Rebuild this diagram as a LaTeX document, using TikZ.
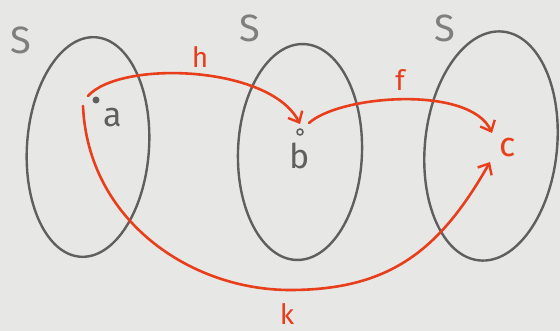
\documentclass[tikz,border=0pt]{standalone}
\usepackage{fontspec}
\setmainfont{Fira Sans}
\usetikzlibrary{arrows.meta}
\definecolor{paper}{RGB}{231,231,229}
\definecolor{pencil}{RGB}{95,95,95}
\definecolor{marker}{RGB}{232,62,28}
\tikzset{
  setline/.style={draw=pencil, line width=2.4pt},
  maparrow/.style={draw=marker, line width=2.6pt, line cap=round,
    -{Straight Barb[length=9pt,width=16pt,line width=2.4pt]}},
  setlabel/.style={text=pencil!80, font=\fontsize{38}{38}\selectfont, inner sep=0pt},
  ptlabel/.style={text=pencil, font=\fontsize{34}{34}\selectfont, inner sep=0pt},
  redlabel/.style={text=marker, font=\fontsize{28}{28}\selectfont, inner sep=0pt},
}
\begin{document}
\begin{tikzpicture}[x=1pt,y=-1pt]
\fill[paper] (0,0) rectangle (560,331);
\useasboundingbox (0,0) rectangle (560,331);
% sets
\draw[setline, rotate around={-4:(88,147)}] (88,147) ellipse [x radius=61, y radius=110];
\draw[setline, rotate around={-2:(300,152)}] (300,152) ellipse [x radius=62, y radius=108];
\draw[setline, rotate around={-6:(491,146)}] (491,146) ellipse [x radius=66, y radius=115];
\node[setlabel] (s1) at (21,40) {S};
\node[setlabel] (s2) at (250,28) {S};
\node[setlabel] (s3) at (445,28) {S};
% points
\node[circle, fill=pencil, inner sep=0pt, minimum size=7pt] (a) at (96,100) {};
\node[circle, draw=pencil, line width=1.5pt, inner sep=0pt, minimum size=6pt] (b) at (300,132) {};
\node[ptlabel] (la) at (113,118) {a};
\node[ptlabel] (lb) at (300,156) {b};
\node[ptlabel, text=marker] (c) at (508,148) {c};
% connector ends
\coordinate (hs) at (88,96);
\coordinate (he) at (300,124);
\coordinate (fs) at (309,123);
\coordinate (fe) at (492,133);
\coordinate (ks) at (83,106);
\coordinate (km) at (290,290);
\coordinate (ke) at (490,162);
% maps
\draw[maparrow] (hs) .. controls (120,60) and (270,65) .. (he);
\draw[maparrow] (fs) .. controls (340,95) and (470,85) .. (fe);
\draw[maparrow] (ks) .. controls (88,220) and (190,290) .. (km)
  .. controls (390,290) and (440,250) .. (ke);
\node[redlabel] (lh) at (200,57) {h};
\node[redlabel] (lf) at (400,80) {f};
\node[redlabel] (lk) at (287,314) {k};
\end{tikzpicture}
\end{document}
